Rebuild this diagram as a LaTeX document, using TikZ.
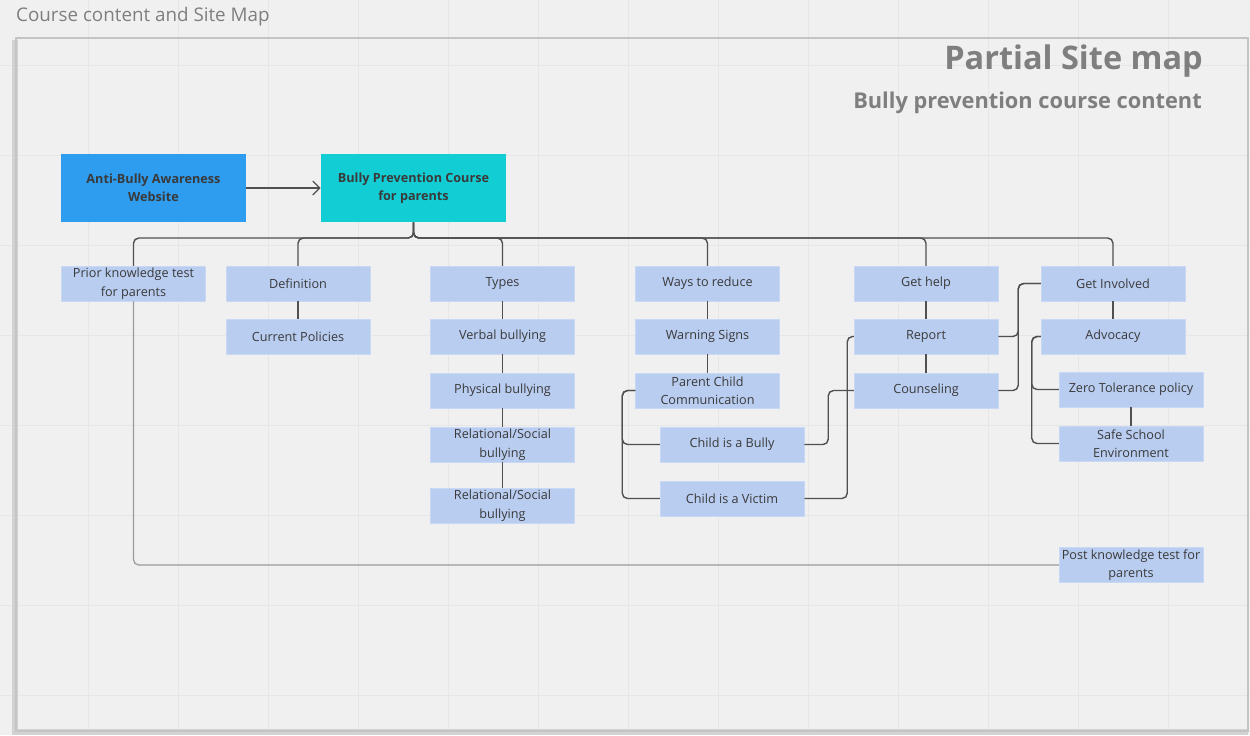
\documentclass[tikz,border=0pt]{standalone}
\usepackage{fontspec}
\setmainfont{Open Sans}
\usepackage{tikz}
\usetikzlibrary{arrows.meta}
\definecolor{BgGray}{HTML}{F0F0F0}
\definecolor{GridGray}{HTML}{E6E6E6}
\definecolor{FrameGray}{HTML}{C4C4C4}
\definecolor{ShadeGray}{HTML}{D2D2D2}
\definecolor{TitleGray}{HTML}{7F7F7F}
\definecolor{SiteBlue}{HTML}{2E9CEF}
\definecolor{CourseCyan}{HTML}{12CDD4}
\definecolor{PageBlue}{HTML}{B9CDF1}
\definecolor{PageEdge}{HTML}{C9D8F4}
\definecolor{TextDark}{HTML}{3A3A3A}
\definecolor{LinkDark}{HTML}{505050}
\definecolor{LinkLight}{HTML}{9A9A9A}
\tikzset{
  page/.style={
    rectangle, fill=PageBlue, draw=PageEdge, line width=0.3pt,
    minimum width=#1, minimum height=0.7cm, align=center,
    inner sep=0pt, text=TextDark, font=\fontsize{7.2}{10.5}\selectfont
  },
  page/.default=2.88cm,
  head/.style={
    rectangle, minimum width=3.7cm, minimum height=1.36cm, align=center,
    inner sep=0pt, text=TextDark, font=\bfseries\fontsize{7.2}{10}\selectfont
  },
  link/.style={line width=0.8pt, color=LinkDark, rounded corners=3pt},
  thinLink/.style={line width=0.7pt, color=LinkLight, rounded corners=3pt},
  arr/.style={-{Straight Barb[length=4pt]}, line width=0.7pt, color=LinkDark},
}

\begin{document}
\begin{tikzpicture}[x=0.02cm, y=-0.02cm]
\useasboundingbox (0,0) rectangle (1250,735);
\fill[BgGray] (0,0) rectangle (1250,735);
% grid
\foreach \gx in {88,178,...,1250} \draw[GridGray, line width=0.5pt] (\gx,0) -- (\gx,735);
\foreach \gy in {65,155,...,735} \draw[GridGray, line width=0.5pt] (0,\gy) -- (1250,\gy);
% frame with a soft shadow
\draw[ShadeGray, line width=3pt] (15,40) -- (15,732) -- (1248,732);
\draw[FrameGray, line width=1pt] (16,38) rectangle (1248,731);

\node[anchor=west, text=TitleGray, font=\fontsize{10.7}{12}\selectfont] (caption) at (10,17) {Course content and Site Map};
\node[anchor=east, text=TitleGray, font=\bfseries\fontsize{18.5}{22}\selectfont] (title) at (1209,61) {Partial Site map};
\node[anchor=east, text=TitleGray, font=\bfseries\fontsize{12.4}{15}\selectfont] (subtitle) at (1208,103) {Bully prevention course content};

\node[head, fill=SiteBlue] (web) at (153.5,188) {Anti-Bully Awareness\\Website};
\node[head, fill=CourseCyan] (course) at (413.5,188) {Bully Prevention Course\\for parents};
\draw[arr] (web) -- (course);

% first level
\node[page] (prior) at (133.5,283.5) {Prior knowledge test\\for parents};
\node[page] (def) at (298,283.5) {Definition};
\node[page] (types) at (502.5,283.5) {Types};
\node[page] (ways) at (707.5,283.5) {Ways to reduce};
\node[page] (help) at (926,283.5) {Get help};
\node[page] (inv) at (1113,283.5) {Get Involved};

% lower levels
\node[page] (pol) at (298,336.5) {Current Policies};
\node[page] (verbal) at (502.5,336.5) {Verbal bullying};
\node[page] (physical) at (502.5,390.5) {Physical bullying};
\node[page] (relA) at (502.5,444.5) {Relational/Social\\bullying};
\node[page] (relB) at (502.5,505.5) {Relational/Social\\bullying};
\node[page] (warn) at (707.5,336.5) {Warning Signs};
\node[page] (pcc) at (707.5,390.5) {Parent Child\\Communication};
\node[page] (bully) at (732,444.5) {Child is a Bully};
\node[page] (victim) at (732,498.5) {Child is a Victim};
\node[page] (report) at (926,336.5) {Report};
\node[page] (couns) at (926,390.5) {Counseling};
\node[page] (adv) at (1113,336.5) {Advocacy};
\node[page] (zero) at (1131,389.5) {Zero Tolerance policy};
\node[page] (safe) at (1131,443.5) {Safe School\\Environment};
\node[page] (post) at (1131,565) {Post knowledge test for\\parents};

% bus from the course
\coordinate (bus) at (413.5,238);
\foreach \kid in {prior,def,types,ways,help,inv}
  \draw[link] (course.south) -- (bus) -| (\kid.north);

\draw[thinLink] (prior.south) |- (post.west);
\draw[link] (def) -- (pol);
\draw[link] (types) -- (verbal);
\draw[link] (verbal) -- (physical);
\draw[link] (physical) -- (relA);
\draw[link] (relA) -- (relB);
\draw[link] (ways) -- (warn);
\draw[link] (warn) -- (pcc);
\draw[link] (help) -- (report);
\draw[link] (report) -- (couns);
\draw[link] (inv) -- (adv);
\draw[link] (zero) -- (safe);

\draw[link] (pcc.west) -- ++(-13,0) |- (bully.west);
\draw[link] (pcc.west) -- ++(-13,0) |- (victim.west);
\draw[link] (bully.east) -- ++(24,0) |- (couns.west);
\draw[link] (victim.east) -- ++(43,0) |- (report.west);
\draw[link] (report.east) -- ++(20,0) |- (inv.west);
\draw[link] (couns.east) -- ++(20,0) |- (inv.west);
\draw[link] (adv.west) -- ++(-9,0) |- (zero.west);
\draw[link] (adv.west) -- ++(-9,0) |- (safe.west);

\end{tikzpicture}
\end{document}
